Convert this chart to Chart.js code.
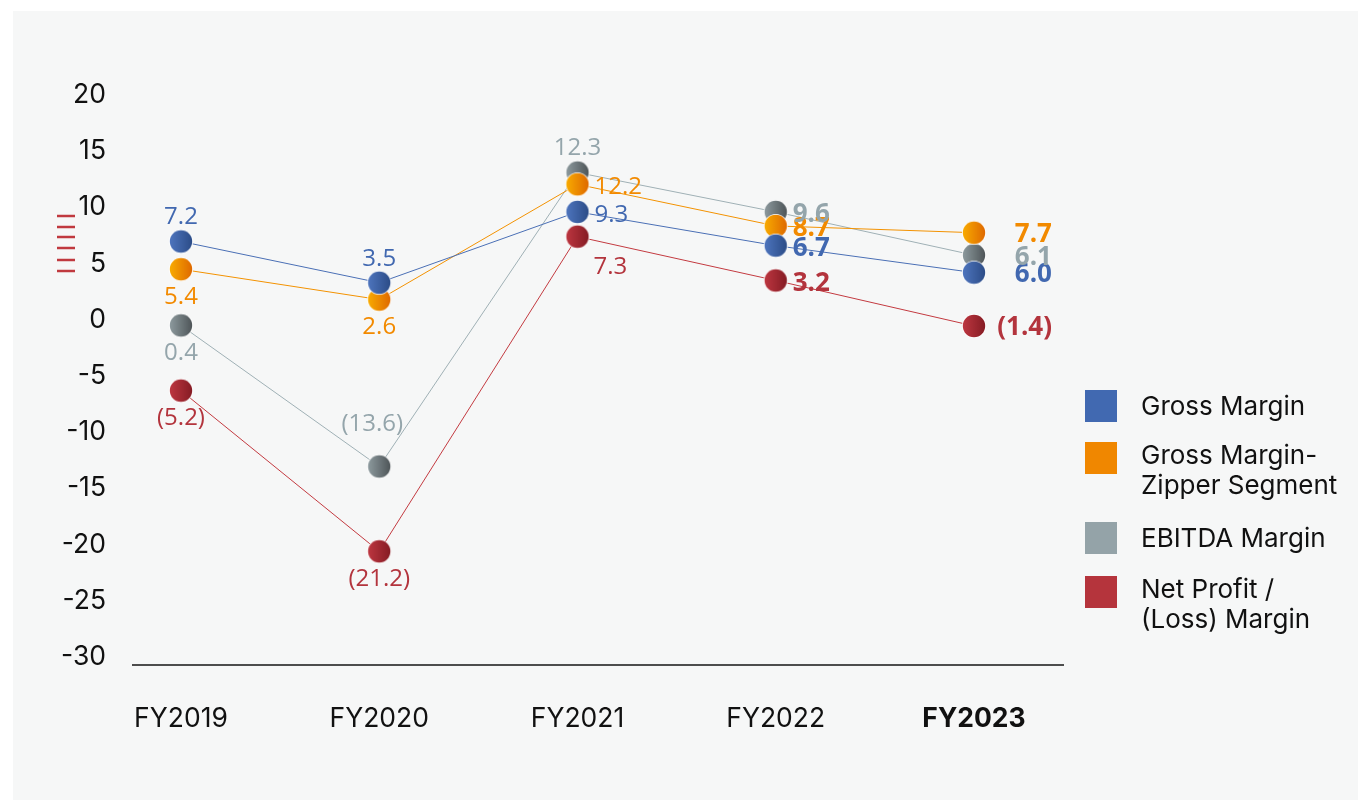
<!DOCTYPE html>
<html>
<head>
<meta charset="utf-8">
<script src="https://cdn.jsdelivr.net/npm/chart.js@4.4.1/dist/chart.umd.min.js"></script>
<style>
  body { margin: 0; background: #fff; }
  #panel { position: absolute; left: 13px; top: 11px; width: 1345px; height: 789px; background: #f6f7f7; }
  #wrap { position: absolute; left: 0; top: 0; width: 1358px; height: 805px; }
  .leg { position: absolute; left: 1085px; font-family: Inter, sans-serif; font-size: 26px; line-height: 30px; color: #111; }
  .leg .sw { position: absolute; left: 0; width: 32px; height: 32px; }
  .leg .tx { position: absolute; left: 56px; white-space: nowrap; }
</style>
</head>
<body>
<div id="panel"></div>
<div id="wrap"><canvas id="chart" width="1358" height="805"></canvas></div>
<div id="legend"></div>
<script>
// Margins (%) by fiscal year
const years = ['FY2019', 'FY2020', 'FY2021', 'FY2022', 'FY2023'];
const yTicks = [-30, -25, -20, -15, -10, -5, 0, 5, 10, 15, 20];

// marker positions as drawn
const grossMargin  = [6.97, 3.3, 9.6, 6.6, 4.2];
const zipperMargin = [4.5, 1.8, 12.05, 8.35, 7.75];
const ebitdaMargin = [-0.5, -13.05, 13.1, 9.6, 5.75];
const netMargin    = [-6.3, -20.6, 7.4, 3.5, -0.55];

// printed values
const grossText  = ['7.2', '3.5', '9.3', '6.7', '6.0'];
const zipperText = ['5.4', '2.6', '12.2', '8.7', '7.7'];
const ebitdaText = ['0.4', '(13.6)', '12.3', '9.6', '6.1'];
const netText    = ['(5.2)', '(21.2)', '7.3', '3.2', '(1.4)'];

const legendNames = [['Gross Margin'], ['Gross Margin-', 'Zipper Segment'], ['EBITDA Margin'], ['Net Profit /', '(Loss) Margin']];
const legendColors = ['#4169b1', '#f08700', '#94a3a8', '#b5343c'];

// shaded ball marker
function ball(c1, c2) {
    const cv = document.createElement('canvas');
    cv.width = 26; cv.height = 26;
    const g = cv.getContext('2d');
    const grad = g.createLinearGradient(2, 0, 24, 0);
    grad.addColorStop(0, c1);
    grad.addColorStop(1, c2);
    g.beginPath();
    g.arc(13, 13, 12, 0, Math.PI * 2);
    g.fillStyle = '#ffffff';
    g.fill();
    g.beginPath();
    g.arc(13, 13, 11.2, 0, Math.PI * 2);
    g.fillStyle = grad;
    g.fill();
    return cv;
}

const places = {
    top:      { dx: 0,  dy: -24, align: 'center' },
    bottom:   { dx: 0,  dy: 28,  align: 'center' },
    upper:    { dx: -7, dy: -42, align: 'center' },
    right:    { dx: 17, dy: 3,   align: 'left' },
    rightlow: { dx: 16, dy: 31,  align: 'left' },
    far:      { dx: 78, dy: 2,   align: 'right' }
};

const valueLabels = {
    id: 'valueLabels',
    afterDatasetsDraw(chart) {
        const ctx = chart.ctx;
        ctx.save();
        chart.data.datasets.forEach((ds, i) => {
            const meta = chart.getDatasetMeta(i);
            meta.data.forEach((pt, j) => {
                const p = places[ds.labelPlace[j]];
                const bold = j >= 3;
                ctx.font = (bold ? 'bold 26px' : '24px') + ' "Open Sans", sans-serif';
                ctx.fillStyle = ds.labelColor;
                ctx.textAlign = p.align;
                ctx.textBaseline = 'middle';
                ctx.fillText(ds.texts[j], pt.x + p.dx, pt.y + p.dy);
            });
        });
        // small red marks beside the y axis
        ctx.strokeStyle = '#c0393f';
        ctx.lineWidth = 2.5;
        [216, 227, 237, 248, 260, 271].forEach(y => {
            ctx.beginPath();
            ctx.moveTo(57, y);
            ctx.lineTo(75, y);
            ctx.stroke();
        });
        ctx.restore();
    }
};

function series(label, data, texts, line, textColor, c1, c2, order, place) {
    return {
        label: label,
        data: data.map((v, i) => ({ x: i, y: v })),
        texts: texts,
        labelColor: textColor,
        labelPlace: place,
        borderColor: line,
        borderWidth: 1,
        pointStyle: ball(c1, c2),
        pointRadius: 12,
        pointHoverRadius: 12,
        tension: 0,
        clip: false,
        order: order
    };
}

new Chart(document.getElementById('chart'), {
    type: 'line',
    data: {
        datasets: [
            series('Gross Margin', grossMargin, grossText, '#4a6fb5', '#4168b0', '#4d74bd', '#2c4d88', 1,
                ['top', 'top', 'right', 'right', 'far']),
            series('Gross Margin-Zipper Segment', zipperMargin, zipperText, '#f39200', '#f28a00', '#f8aa00', '#df6a00', 2,
                ['bottom', 'bottom', 'right', 'right', 'far']),
            series('EBITDA Margin', ebitdaMargin, ebitdaText, '#9fb0b5', '#94a5ab', '#8c999d', '#4f5659', 3,
                ['bottom', 'upper', 'top', 'right', 'far']),
            series('Net Profit / (Loss) Margin', netMargin, netText, '#c33a40', '#b3343d', '#bc3640', '#861c24', 0,
                ['bottom', 'bottom', 'rightlow', 'right', 'far'])
        ]
    },
    options: {
        responsive: false,
        animation: false,
        layout: { padding: { left: 50, top: 95, right: 295, bottom: 70 } },
        plugins: { legend: { display: false }, tooltip: { enabled: false } },
        scales: {
            x: {
                type: 'linear',
                min: -0.242,
                max: 4.449,
                afterBuildTicks: s => { s.ticks = years.map((y, i) => ({ value: i })); },
                afterFit: s => { s.height = 70; },
                grid: { display: false, drawTicks: false },
                border: { display: true, color: '#4d4d4d', width: 2 },
                ticks: {
                    padding: 38,
                    color: '#111',
                    font: c => ({ family: 'Inter', size: 26.5, weight: c.index === 4 ? 'bold' : 'normal' }),
                    callback: v => years[v]
                }
            },
            y: {
                min: -30.71,
                max: 20,
                afterBuildTicks: s => { s.ticks = yTicks.map(v => ({ value: v })); },
                afterFit: s => { s.width = 83; },
                grid: { display: false, drawTicks: false },
                border: { display: false },
                ticks: {
                    padding: 27,
                    color: '#111',
                    font: { family: 'Inter', size: 26.5 }
                }
            }
        }
    },
    plugins: [valueLabels]
});

// legend
const legendTops = [390, 442, 522, 576];
const legendEl = document.getElementById('legend');
legendNames.forEach((lines, i) => {
    const item = document.createElement('div');
    item.className = 'leg';
    item.style.top = legendTops[i] + 'px';
    item.innerHTML = '<div class="sw" style="background:' + legendColors[i] + '"></div>' +
        '<div class="tx" style="top:' + (lines.length > 1 ? -2 : 1) + 'px">' + lines.join('<br>') + '</div>';
    legendEl.appendChild(item);
});
</script>
</body>
</html>
